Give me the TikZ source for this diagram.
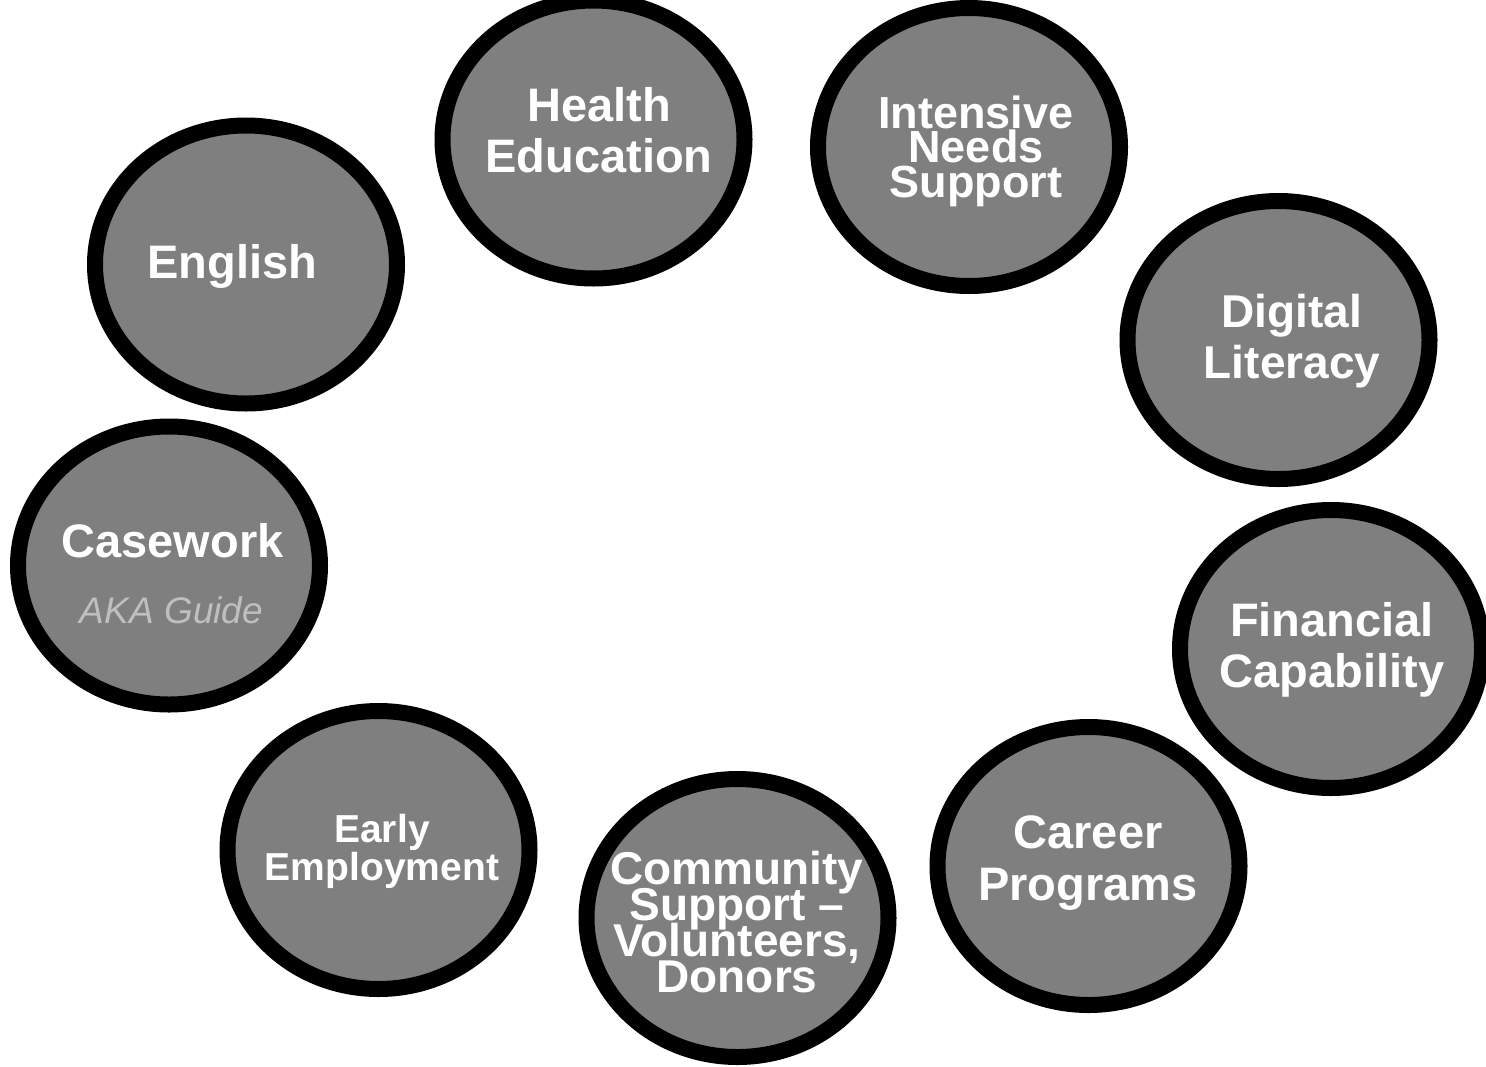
\documentclass[tikz,border=0pt]{standalone}
\usepackage{fontspec}
\setmainfont{Liberation Sans}
\usetikzlibrary{shapes.geometric}
\definecolor{bubblefill}{RGB}{127,127,127}
\definecolor{akagray}{RGB}{191,191,191}
\newcommand\mytightlines{\lineskiplimit=-200pt\relax\lineskip=0pt\relax}
\begin{document}
\begin{tikzpicture}[x=1pt,y=-1pt,
  bubble/.style={ellipse, draw=black, fill=bubblefill, line width=16pt,
    minimum width=302pt, minimum height=278pt, inner sep=0pt},
  txt/.style 2 args={anchor=base, inner sep=0pt, align=center, text=white,
    font={\fontsize{#1}{#2}\selectfont\bfseries\mytightlines}},
  aka/.style={anchor=base, inner sep=0pt, text=akagray, font=\fontsize{37}{37}\selectfont\itshape}]
\useasboundingbox (0,0) rectangle (1486,1066);

% bubbles
\node[bubble] (he) at (593.5,139.5) {};
\node[bubble] (ins) at (969,147) {};
\node[bubble] (en) at (246,264.5) {};
\node[bubble] (dl) at (1278.5,340) {};
\node[bubble] (cw) at (169,565.5) {};
\node[bubble] (fc) at (1331,649) {};
\node[bubble] (ee) at (378.5,850) {};
\node[bubble] (cs) at (737.5,918) {};
\node[bubble] (cp) at (1088.5,866) {};

% labels (anchored at the baseline of the last line)
\node[txt={47}{51}] (het) at (599,172) {Health\\Education};
\node[txt={45}{34.5}] (inst) at (976,197) {Intensive\\Needs\\Support};
\node[txt={47}{51}] (ent) at (232.5,278) {English};
\node[txt={46}{51}] (dlt) at (1292,378) {Digital\\Literacy};
\node[txt={47}{51}] (cwt) at (172.5,557) {Casework};
\node[aka] (cwa) at (171.5,623) {AKA Guide};
\node[txt={47}{51}] (fct) at (1332,687) {Financial\\Capability};
\node[txt={39}{38}] (eet) at (382,880) {Early\\Employment};
\node[txt={47}{52}] (cpt) at (1088,900) {Career\\Programs};
\node[txt={46}{35.7}] (cst) at (737,992) {Community\\Support –\\Volunteers,\\Donors};
\end{tikzpicture}
\end{document}
